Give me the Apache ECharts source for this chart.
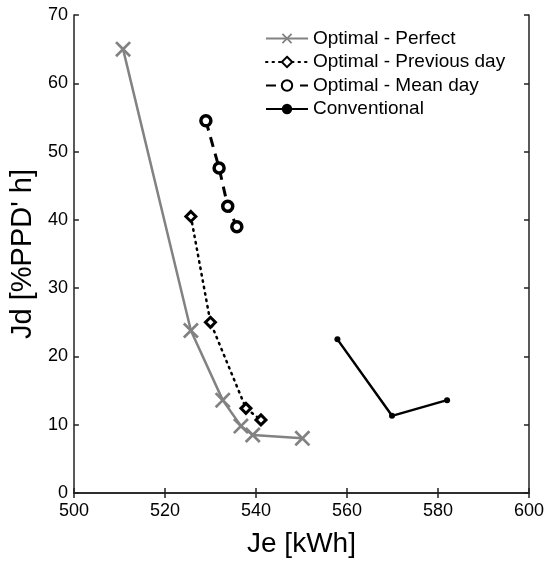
<!DOCTYPE html>
<html>
<head>
<meta charset="utf-8">
<script src="https://cdn.jsdelivr.net/npm/echarts@6/dist/echarts.min.js"></script>
<style>
  html, body { margin: 0; padding: 0; background: #fff; }
  #chart { width: 552px; height: 563px; }
</style>
</head>
<body>
<div id="chart"></div>
<script>
// 数据 (Je [kWh], Jd [%PPD' h])
const perfectJe = [510.8, 525.7, 532.7, 536.7, 539.3, 550.2];
const perfectJd = [65.0, 23.8, 13.6, 9.8, 8.5, 8.0];
const previousJe = [525.7, 530.0, 537.8, 541.1];
const previousJd = [40.5, 25.0, 12.4, 10.7];
const meanJe = [529.0, 531.9, 533.8, 535.8];
const meanJd = [54.5, 47.6, 42.0, 39.0];
const convJe = [557.9, 569.9, 582.0];
const convJd = [22.5, 11.3, 13.6];
const seriesNames = ["Optimal - Perfect", "Optimal - Previous day", "Optimal - Mean day", "Conventional"];

const pairs = (xs, ys) => xs.map((x, i) => [x, ys[i]]);

// X 形标记
const crossPath = "path://M0,12L12,0L50,38L88,0L100,12L62,50L100,88L88,100L50,62L12,100L0,88L38,50Z";
const font = "Liberation Sans, Arial, Helvetica, sans-serif";

const axisLine = { show: true, lineStyle: { color: "#222", width: 1.5 } };
const axisTick = { show: true, inside: true, length: 5, lineStyle: { color: "#222", width: 1.5 } };

const options = {
  animation: false,
  grid: { left: 71, right: 23, top: 15, bottom: 66 },
  legend: {
    orient: "vertical",
    left: 265,
    top: 29,
    padding: 0,
    itemWidth: 42,
    itemHeight: 13,
    itemGap: 4.5,
    textStyle: { fontFamily: font, fontSize: 19, lineHeight: 19, color: "#000" },
    data: seriesNames,
  },
  xAxis: [
    {
      type: "value",
      min: 500,
      max: 600,
      interval: 20,
      name: "Je [kWh]",
      nameLocation: "middle",
      nameGap: 37,
      nameTextStyle: { fontFamily: font, fontSize: 28, color: "#000" },
      axisLine,
      axisTick,
      axisLabel: { fontFamily: font, fontSize: 18, color: "#000", margin: 9 },
      splitLine: { show: false },
    },
    {
      type: "value",
      position: "top",
      min: 500,
      max: 600,
      interval: 20,
      axisLine,
      axisTick,
      axisLabel: { show: false },
      splitLine: { show: false },
    },
  ],
  yAxis: [
    {
      type: "value",
      min: 0,
      max: 70,
      interval: 10,
      name: "Jd [%PPD' h]",
      nameLocation: "middle",
      nameGap: 32,
      nameTextStyle: { fontFamily: font, fontSize: 29, color: "#000" },
      axisLine,
      axisTick,
      axisLabel: { fontFamily: font, fontSize: 18, color: "#000", margin: 6 },
      splitLine: { show: false },
    },
    {
      type: "value",
      position: "right",
      min: 0,
      max: 70,
      interval: 10,
      axisLine,
      axisTick,
      axisLabel: { show: false },
      splitLine: { show: false },
    },
  ],
  series: [
    {
      name: seriesNames[0],
      type: "line",
      data: pairs(perfectJe, perfectJd),
      symbol: crossPath,
      symbolSize: 16,
      lineStyle: { color: "#828282", width: 2.5 },
      itemStyle: { color: "#828282" },
    },
    {
      name: seriesNames[1],
      type: "line",
      data: pairs(previousJe, previousJd),
      symbol: "diamond",
      symbolSize: 10,
      lineStyle: { color: "#000", width: 2.5, type: [1.5, 5], cap: "round" },
      itemStyle: { color: "#fff", borderColor: "#000", borderWidth: 3 },
    },
    {
      name: seriesNames[2],
      type: "line",
      data: pairs(meanJe, meanJd),
      symbol: "circle",
      symbolSize: 10,
      lineStyle: { color: "#000", width: 3, type: [10, 7] },
      itemStyle: { color: "#fff", borderColor: "#000", borderWidth: 3.5 },
    },
    {
      name: seriesNames[3],
      type: "line",
      data: pairs(convJe, convJd),
      symbol: "circle",
      symbolSize: 6,
      lineStyle: { color: "#000", width: 2.5 },
      itemStyle: { color: "#000" },
    },
  ],
};

const chart = echarts.init(document.getElementById("chart"));
chart.setOption(options);
</script>
</body>
</html>
